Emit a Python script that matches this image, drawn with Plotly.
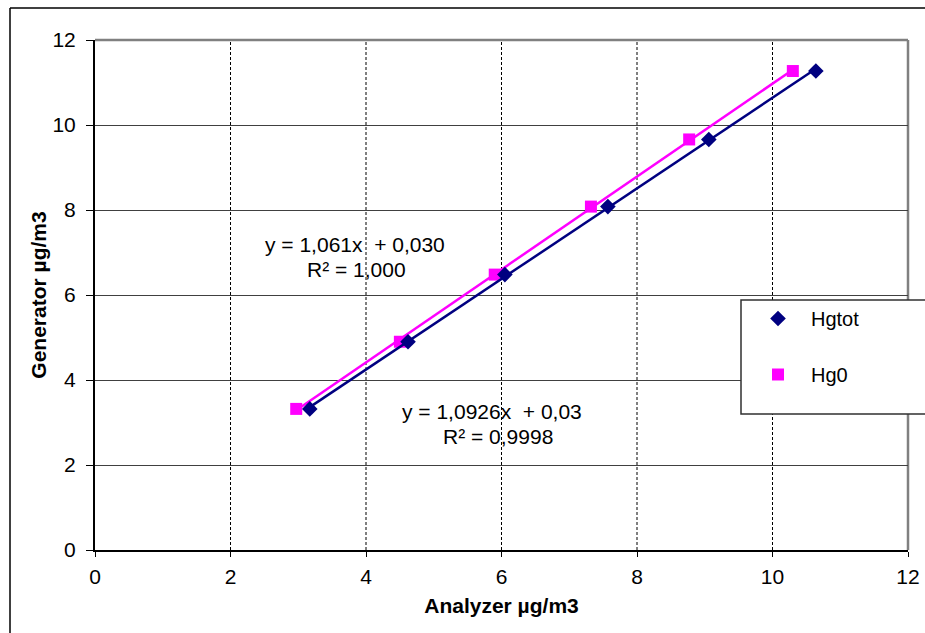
import numpy as np
import plotly.graph_objects as go

generator = [3.32, 4.90, 6.48, 8.08, 9.66, 11.27]
analyzer_hgtot = [3.17, 4.62, 6.05, 7.57, 9.06, 10.64]
analyzer_hg0 = [2.97, 4.50, 5.90, 7.32, 8.77, 10.30]
x_ticks = [0, 2, 4, 6, 8, 10, 12]
y_ticks = [0, 2, 4, 6, 8, 10, 12]

NAVY = "#000080"
MAGENTA = "#FF00FF"
FONT = "Liberation Sans, Arial, sans-serif"


def trend(xs, ys):
    k, b = np.polyfit(xs, ys, 1)
    xx = np.array([min(xs), max(xs)])
    return xx, k * xx + b


fig = go.Figure()
tx, ty = trend(analyzer_hg0, generator)
fig.add_trace(go.Scatter(x=tx, y=ty, mode="lines", line=dict(color=MAGENTA, width=2.5),
                         showlegend=False, hoverinfo="skip"))
fig.add_trace(go.Scatter(x=analyzer_hg0, y=generator, mode="markers", name="Hg0",
                         marker=dict(symbol="square", size=12, color=MAGENTA),
                         legendrank=2, legendgroup="b"))
tx, ty = trend(analyzer_hgtot, generator)
fig.add_trace(go.Scatter(x=tx, y=ty, mode="lines", line=dict(color=NAVY, width=2.5),
                         showlegend=False, hoverinfo="skip"))
fig.add_trace(go.Scatter(x=analyzer_hgtot, y=generator, mode="markers", name="Hgtot",
                         marker=dict(symbol="diamond", size=12, color=NAVY),
                         legendrank=1, legendgroup="a"))

W, H = 925, 633
L, R, T, B = 95, 908, 40, 550


def px(xp):
    return (xp - L) / (R - L)


def py(yp):
    return (B - yp) / (B - T)


shapes = []
for v in x_ticks[1:-1]:
    shapes.append(dict(type="line", xref="x", yref="paper", x0=v, x1=v, y0=0, y1=1,
                       line=dict(color="black", width=1, dash="3px,2px"), layer="below"))
shapes.append(dict(type="line", xref="paper", yref="paper", x0=0, x1=1, y0=1, y1=1,
                   line=dict(color="#808080", width=2.5), layer="below"))
shapes.append(dict(type="line", xref="paper", yref="paper", x0=1, x1=1, y0=0, y1=1,
                   line=dict(color="#808080", width=2.5), layer="below"))
shapes.append(dict(type="line", xref="paper", yref="paper", x0=px(10), x1=px(940), y0=py(8), y1=py(8),
                   line=dict(color="black", width=1.5)))
shapes.append(dict(type="line", xref="paper", yref="paper", x0=px(10), x1=px(10), y0=py(8), y1=py(650),
                   line=dict(color="black", width=1.5)))
shapes.append(dict(type="rect", xref="paper", yref="paper", x0=px(741), x1=px(945), y0=py(300), y1=py(414),
                   line=dict(color="#303030", width=1.5), fillcolor="white", layer="above"))

annotations = [
    dict(text="y = 1,061x  + 0,030", x=3.84, y=7.2),
    dict(text="R² = 1,000", x=3.86, y=6.61),
    dict(text="y = 1,0926x  + 0,03", x=5.86, y=3.25),
    dict(text="R² = 0,9998", x=5.95, y=2.66),
]
for a in annotations:
    a.update(xref="x", yref="y", showarrow=False, xanchor="center", yanchor="middle",
             font=dict(family=FONT, size=21, color="black"))

fig.update_layout(
    width=W, height=H,
    margin=dict(l=L, r=W - R, t=T, b=H - B, autoexpand=False),
    paper_bgcolor="white", plot_bgcolor="white",
    font=dict(family=FONT, size=20, color="black"),
    shapes=shapes,
    annotations=annotations,
    showlegend=True,
    legend=dict(x=px(745), y=py(299), xanchor="left", yanchor="top",
                bgcolor="rgba(0,0,0,0)", borderwidth=0,
                font=dict(family=FONT, size=20, color="black"),
                traceorder="grouped", tracegroupgap=27, itemwidth=56),
    xaxis=dict(range=[0, 12], tickvals=x_ticks, showgrid=False, zeroline=False,
               showline=True, linecolor="black", linewidth=2,
               ticks="outside", ticklen=5, tickcolor="black", ticklabelstandoff=2,
               tickfont=dict(family=FONT, size=21),
               title=dict(text="<b>Analyzer µg/m3</b>", font=dict(family=FONT, size=21), standoff=11)),
    yaxis=dict(range=[0, 12], tickvals=y_ticks, showgrid=True, gridcolor="#404040", gridwidth=1,
               zeroline=False, showline=True, linecolor="black", linewidth=2,
               ticks="outside", ticklen=7, tickcolor="black", ticklabelstandoff=6,
               tickfont=dict(family=FONT, size=21),
               title=dict(text="<b>Generator µg/m3</b>", font=dict(family=FONT, size=21), standoff=0)),
)

fig.write_html("out.html", config={"displayModeBar": False},
               post_script="document.body.style.margin='0';")
